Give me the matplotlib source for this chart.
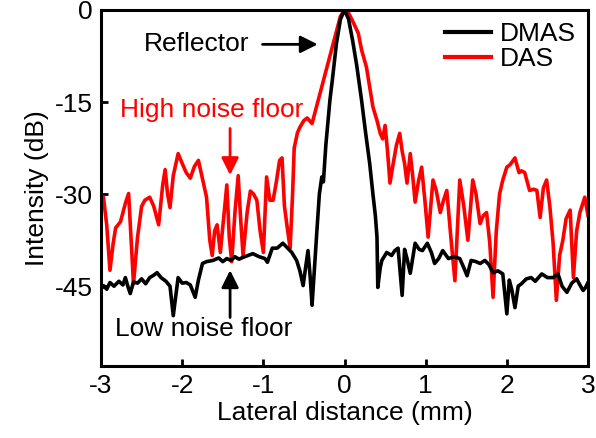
"""Lateral beam profile of a point reflector: DMAS vs DAS."""
import matplotlib
matplotlib.use("Agg")
import matplotlib.pyplot as plt

plt.rcParams["font.family"] = ["Liberation Sans", "DejaVu Sans"]
plt.rcParams["axes.unicode_minus"] = False

# DMAS profile (lateral distance mm, intensity dB)
dmas_x = [-3.00, -2.97, -2.93, -2.89, -2.84, -2.78, -2.73, -2.70, -2.67, -2.64,
          -2.60, -2.55, -2.50, -2.45, -2.40, -2.35, -2.31, -2.26, -2.20, -2.15,
          -2.11, -2.05, -2.00, -1.95, -1.90, -1.84, -1.80, -1.75, -1.70, -1.62,
          -1.55, -1.50, -1.45, -1.40, -1.35, -1.30, -1.25, -1.19, -1.13, -1.05,
          -0.98, -0.95, -0.89, -0.83, -0.76, -0.70, -0.65, -0.59, -0.55, -0.51,
          -0.48, -0.45, -0.42, -0.40, -0.36, -0.34, -0.31, -0.28, -0.26, -0.23,
          -0.18, -0.15, -0.10, -0.05, 0.00, 0.05, 0.10, 0.15, 0.21, 0.26,
          0.31, 0.35, 0.38, 0.40, 0.41, 0.44, 0.46, 0.52, 0.58, 0.62,
          0.66, 0.71, 0.74, 0.77, 0.81, 0.87, 0.92, 0.96, 1.02, 1.07,
          1.11, 1.16, 1.21, 1.28, 1.35, 1.42, 1.47, 1.51, 1.56, 1.62,
          1.67, 1.73, 1.78, 1.83, 1.89, 1.95, 2.00, 2.03, 2.06, 2.10,
          2.14, 2.18, 2.24, 2.30, 2.35, 2.43, 2.50, 2.57, 2.63, 2.68,
          2.74, 2.80, 2.86, 2.90, 2.94, 2.97, 3.00]
dmas_db = [-45.5, -44.9, -45.5, -44.4, -45.0, -44.2, -44.8, -43.6, -45.0, -46.2,
           -44.3, -44.5, -43.8, -44.6, -43.6, -43.2, -42.8, -43.6, -44.2, -45.0,
           -49.8, -43.6, -44.5, -44.4, -44.8, -46.8, -44.0, -41.3, -41.0, -40.8,
           -40.4, -41.0, -40.5, -40.8, -40.2, -40.6, -40.3, -40.0, -39.7, -40.2,
           -40.5, -41.1, -38.8, -38.8, -38.0, -38.8, -39.5, -40.8, -42.5, -44.9,
           -42.0, -39.2, -44.0, -48.1, -40.0, -35.9, -30.0, -27.2, -28.0, -22.0,
           -14.7, -11.4, -5.5, -1.5, 0.0, -1.5, -5.0, -9.0, -14.7, -20.0,
           -25.0, -30.0, -33.5, -37.0, -45.2, -42.0, -40.8, -39.5, -40.0, -39.2,
           -38.8, -46.5, -39.0, -40.5, -42.9, -38.0, -39.0, -39.2, -38.0, -39.5,
           -41.3, -40.5, -39.2, -40.5, -40.2, -40.5, -42.0, -43.3, -40.8, -41.0,
           -41.3, -40.8, -41.5, -42.8, -42.5, -43.0, -49.5, -44.0, -45.5, -48.5,
           -45.0, -44.6, -43.8, -43.6, -44.2, -43.0, -43.6, -43.6, -43.0, -45.0,
           -46.0, -44.5, -43.8, -44.8, -45.7, -45.2, -44.4]

# DAS profile
das_x = [-3.00, -2.97, -2.93, -2.89, -2.85, -2.82, -2.76, -2.70, -2.66, -2.60,
         -2.55, -2.50, -2.46, -2.40, -2.35, -2.29, -2.24, -2.21, -2.18, -2.15,
         -2.11, -2.05, -2.00, -1.95, -1.90, -1.85, -1.80, -1.75, -1.70, -1.66,
         -1.63, -1.60, -1.57, -1.53, -1.49, -1.45, -1.42, -1.39, -1.35, -1.31,
         -1.28, -1.25, -1.20, -1.16, -1.12, -1.08, -1.04, -1.00, -0.96, -0.92,
         -0.88, -0.84, -0.80, -0.77, -0.74, -0.70, -0.67, -0.64, -0.62, -0.58,
         -0.55, -0.50, -0.46, -0.42, -0.40, -0.36, -0.32, -0.26, -0.20, -0.15,
         -0.10, -0.05, 0.00, 0.05, 0.10, 0.17, 0.21, 0.27, 0.31, 0.35,
         0.40, 0.44, 0.47, 0.50, 0.53, 0.56, 0.60, 0.64, 0.68, 0.71,
         0.74, 0.77, 0.81, 0.84, 0.87, 0.91, 0.95, 0.99, 1.03, 1.09,
         1.13, 1.18, 1.22, 1.26, 1.31, 1.36, 1.42, 1.47, 1.52, 1.58,
         1.62, 1.67, 1.71, 1.75, 1.79, 1.83, 1.87, 1.91, 1.95, 2.00,
         2.04, 2.10, 2.15, 2.18, 2.22, 2.28, 2.33, 2.37, 2.41, 2.45,
         2.49, 2.53, 2.57, 2.61, 2.65, 2.69, 2.73, 2.78, 2.82, 2.86,
         2.90, 2.96, 3.00]
das_db = [-31.0, -30.5, -35.0, -42.4, -38.0, -35.5, -34.5, -31.5, -29.9, -44.6,
          -37.0, -32.0, -31.0, -30.5, -32.0, -35.0, -28.5, -26.0, -30.0, -32.2,
          -27.0, -23.4, -25.0, -26.5, -27.4, -25.5, -24.5, -27.5, -30.5, -37.5,
          -40.0, -36.0, -35.0, -39.5, -34.0, -28.5, -37.0, -41.0, -33.0, -27.0,
          -34.0, -40.0, -33.0, -29.5, -30.0, -31.0, -36.0, -39.5, -27.2, -31.0,
          -31.0, -28.0, -24.5, -24.1, -32.0, -36.0, -38.8, -30.0, -22.5, -20.0,
          -19.1, -18.0, -17.6, -18.2, -18.5, -16.5, -14.5, -11.5, -8.5, -6.0,
          -3.5, -1.0, 0.0, -0.5, -1.8, -3.8, -6.5, -9.3, -12.5, -15.8,
          -18.0, -20.1, -21.0, -18.8, -23.0, -28.2, -25.0, -22.0, -20.1, -23.0,
          -25.0, -28.2, -23.4, -27.0, -31.3, -28.0, -25.6, -31.0, -37.0, -27.7,
          -29.4, -33.0, -31.0, -29.4, -37.0, -44.1, -27.7, -32.0, -37.5, -27.7,
          -30.0, -34.8, -33.5, -33.0, -38.0, -46.8, -36.0, -30.0, -27.7, -25.6,
          -25.2, -24.1, -26.5, -26.2, -26.5, -29.4, -29.2, -29.4, -33.8, -29.0,
          -27.7, -32.0, -38.0, -47.3, -40.0, -37.5, -34.0, -32.6, -43.6, -36.0,
          -33.0, -30.5, -33.5]

x_ticks = [-3, -2, -1, 0, 1, 2, 3]
y_ticks = [0, -15, -30, -45]

fs = 19

fig = plt.figure(figsize=(5.96, 4.38), dpi=100)
ax = fig.add_axes([0.1695, 0.1644, 0.8171, 0.8128])

ax.plot(dmas_x, dmas_db, color="black", lw=2.6, label="DMAS", zorder=3)
ax.plot(das_x, das_db, color="#ff0000", lw=2.6, label="DAS", zorder=2)

ax.set_xlim(-3, 3)
ax.set_ylim(-58, 0)
ax.set_xticks(x_ticks)
ax.set_yticks(y_ticks)
ax.set_xticklabels([str(t) for t in x_ticks])
ax.set_yticklabels([str(t) for t in y_ticks])
ax.tick_params(axis="both", direction="in", length=5, width=2, labelsize=fs, pad=6)
for s in ax.spines.values():
    s.set_linewidth(2.2)

ax.set_xlabel("Lateral distance (mm)", fontsize=fs, labelpad=2)
ax.set_ylabel("Intensity (dB)", fontsize=fs, labelpad=4)

arrow_k = dict(arrowstyle="-|>", lw=2, mutation_scale=26, shrinkA=0, shrinkB=0)

ax.text(-1.82, -5.6, "Reflector", fontsize=fs, ha="center", va="center")
ax.annotate("", xy=(-0.33, -5.6), xytext=(-1.01, -5.6),
            arrowprops=dict(color="black", **arrow_k))

ax.text(-1.64, -16.3, "High noise floor", fontsize=fs, ha="center", va="center",
        color="#ff0000")
ax.annotate("", xy=(-1.41, -26.9), xytext=(-1.41, -19.3),
            arrowprops=dict(color="#ff0000", **arrow_k))

ax.text(-1.73, -51.9, "Low noise floor", fontsize=fs, ha="center", va="center")
ax.annotate("", xy=(-1.41, -42.4), xytext=(-1.41, -50.1),
            arrowprops=dict(color="black", **arrow_k))

leg = ax.legend(loc="upper right", frameon=False, fontsize=fs, handlelength=1.75,
                handletextpad=0.35, labelspacing=0.05, borderaxespad=0.25,
                borderpad=0.2)
for h in leg.get_lines():
    h.set_linewidth(3.0)

fig.savefig("out.png", dpi=100)
